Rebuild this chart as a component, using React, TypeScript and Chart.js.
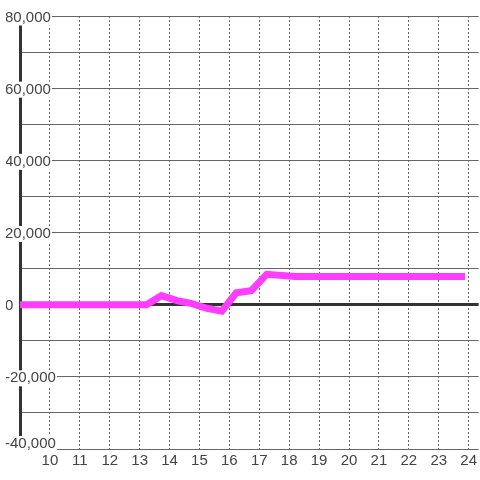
import { useEffect, useRef } from 'react';
import { Chart, registerables } from 'chart.js';

Chart.register(...registerables);

// Hours of the day (x) and values (y) of the single series
const hours = [8.9, 13.23, 13.73, 14.3, 14.75, 15.25, 15.75, 16.23, 16.73, 17.25, 18.2, 23.88];
const values = [0, 0, 2500, 1000, 300, -1000, -1800, 3300, 3900, 8400, 7800, 7800];

// Axis ranges / tick steps
const xMin = 9;
const xMax = 24.333;
const xStep = 1;
const yMin = -40000;
const yMax = 80000;
const yStep = 10000;
const yLabelStep = 20000;

const LINE_COLOR = '#ff3dff';
const TEXT_COLOR = '#444';
const GRID_COLOR = '#666';
const AXIS_COLOR = '#333';
const FONT = '"Liberation Sans", Arial, sans-serif';

const fmt = (n: number) => n.toLocaleString('en-US');

export default function App() {
  const ref = useRef<HTMLCanvasElement>(null);

  useEffect(() => {
    document.body.style.margin = '0';
    const canvas = ref.current;
    if (!canvas) return;
    const chart = new Chart(canvas, {
      type: 'line',
      data: {
        datasets: [
          {
            data: hours.map((h, i) => ({ x: h, y: values[i] })),
            borderColor: LINE_COLOR,
            backgroundColor: LINE_COLOR,
            borderWidth: 7,
            pointRadius: 0,
            pointHoverRadius: 0,
            tension: 0,
            fill: false,
            borderJoinStyle: 'miter',
          },
        ],
      },
      options: {
        responsive: false,
        animation: false,
        devicePixelRatio: 1,
        layout: { padding: { left: 5, top: 16, right: 0, bottom: 7 } },
        plugins: {
          legend: { display: false },
          tooltip: { enabled: false },
        },
        events: [],
        scales: {
          x: {
            type: 'linear',
            min: xMin,
            max: xMax,
            border: { display: false, dash: [2, 2] },
            grid: { color: GRID_COLOR, lineWidth: 1, drawTicks: false },
            ticks: {
              stepSize: xStep,
              includeBounds: false,
              autoSkip: false,
              maxRotation: 0,
              padding: 3,
              color: TEXT_COLOR,
              font: { family: FONT, size: 15 },
              callback: (v: any) => (Number(v) === xMin ? '' : String(v)),
            },
          },
          y: {
            type: 'linear',
            position: 'left',
            weight: 0,
            min: yMin,
            max: yMax,
            afterFit: (scale: any) => {
              scale.width = 15;
            },
            border: { display: true, width: 3, color: AXIS_COLOR },
            grid: {
              drawTicks: false,
              color: (ctx: any) => (ctx.tick && ctx.tick.value === 0 ? AXIS_COLOR : GRID_COLOR),
              lineWidth: (ctx: any) => (ctx.tick && ctx.tick.value === 0 ? 3 : 1),
            },
            ticks: {
              stepSize: yStep,
              autoSkip: false,
              mirror: true,
              crossAlign: 'near',
              padding: -15,
              labelOffset: 1.5,
              color: TEXT_COLOR,
              font: { family: FONT, size: 15, lineHeight: 1 },
              showLabelBackdrop: true,
              backdropColor: '#ffffff',
              backdropPadding: { top: 0.5, bottom: 0.5, left: 1, right: 1 },
              callback: (v: any) => {
                const n = Number(v);
                if (n % yLabelStep !== 0 || n === yMin) return '';
                return fmt(n);
              },
            },
          },
          // same value axis, only carries the bottom label (raised above its grid line)
          y2: {
            type: 'linear',
            position: 'left',
            weight: 1,
            min: yMin,
            max: yMax,
            afterFit: (scale: any) => {
              scale.width = 0;
            },
            border: { display: false },
            grid: { display: false, drawTicks: false },
            ticks: {
              stepSize: yStep,
              autoSkip: false,
              mirror: true,
              crossAlign: 'near',
              padding: 0,
              labelOffset: -5,
              color: TEXT_COLOR,
              font: { family: FONT, size: 15, lineHeight: 1 },
              showLabelBackdrop: true,
              backdropColor: '#ffffff',
              backdropPadding: { top: 0.5, bottom: 2, left: 1, right: 1 },
              callback: (v: any) => (Number(v) === yMin ? fmt(yMin) : ''),
            },
          },
        },
      } as any,
    });
    return () => chart.destroy();
  }, []);

  return (
    <div style={{ width: 480, height: 480 }}>
      <canvas ref={ref} width={480} height={480} style={{ display: 'block' }} />
    </div>
  );
}
